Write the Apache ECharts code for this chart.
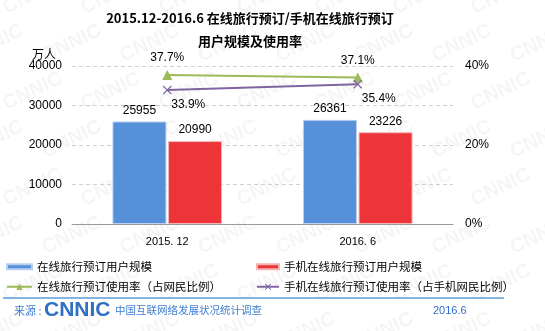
<!DOCTYPE html>
<html>
<head>
<meta charset="utf-8">
<script src="https://cdn.jsdelivr.net/npm/echarts@6/dist/echarts.min.js"></script>
<style>
  html, body { margin: 0; padding: 0; background: #fff; }
  #chart { width: 545px; height: 331px; }
</style>
</head>
<body>
<div id="chart"></div>
<script>
// Periods on the category axis
const categories = ['2015. 12', '2016. 6'];
// Users, in 10k persons
const onlineTravelUsers = [25955, 26361];
const mobileTravelUsers = [20990, 23226];
// Usage rates, in percent
const onlineTravelRate = [37.7, 37.1];
const mobileTravelRate = [33.9, 35.4];

const seriesNames = [
  '在线旅行预订用户规模',
  '手机在线旅行预订用户规模',
  '在线旅行预订使用率（占网民比例）',
  '手机在线旅行预订使用率（占手机网民比例）'
];

const CJK = '"Noto Sans CJK SC", "Liberation Sans", sans-serif';
const NUM = '"Liberation Sans", Arial, sans-serif';

const BLUE = '#5590d8';
const RED = '#ec3439';
const GREEN = '#9bbb59';
const PURPLE = '#8064a2';

// "x" marker shape as a filled outline
const crossPath = 'path://M0,1 L1,0 L5,4 L9,0 L10,1 L6,5 L10,9 L9,10 L5,6 L1,10 L0,9 L4,5 Z';

// faint repeated background mark
const watermark = [];
for (let row = -1; row < 8; row++) {
  for (let col = -1; col < 9; col++) {
    watermark.push({
      type: 'text',
      x: col * 78 + (row % 2) * 39,
      y: row * 48,
      rotation: Math.PI / 7,
      silent: true,
      z: -10,
      style: {
        text: 'CNNIC',
        font: 'bold 20px "Liberation Sans", Arial, sans-serif',
        fill: 'rgba(0,0,0,0.04)'
      }
    });
  }
}

const chart = echarts.init(document.getElementById('chart'), null, { renderer: 'canvas' });

const legendBase = {
  orient: 'horizontal',
  itemGap: 0,
  padding: 0,
  textStyle: { fontFamily: CJK, fontSize: 11.5, color: '#000' },
  selectedMode: false
};

chart.setOption({
  animation: false,
  backgroundColor: '#fff',
  title: {
    text: '2015.12-2016.6 在线旅行预订/手机在线旅行预订\n用户规模及使用率',
    left: 245,
    textAlign: 'center',
    top: 2,
    textStyle: {
      fontFamily: CJK,
      fontSize: 13,
      fontWeight: 'bold',
      color: '#000',
      lineHeight: 23
    }
  },
  grid: { left: 72, right: 92, top: 66, bottom: 107 },
  legend: [
    Object.assign({}, legendBase, { data: [seriesNames[0]], left: 6, top: 261, itemWidth: 25, itemHeight: 5, icon: 'rect' }),
    Object.assign({}, legendBase, { data: [seriesNames[1]], left: 256, top: 261, itemWidth: 22, itemHeight: 5, icon: 'rect' }),
    Object.assign({}, legendBase, { data: [seriesNames[2]], left: 6, top: 281, itemWidth: 25, itemHeight: 8 }),
    Object.assign({}, legendBase, { data: [seriesNames[3]], left: 256, top: 281, itemWidth: 22, itemHeight: 8 })
  ],
  xAxis: {
    type: 'category',
    data: categories,
    axisLine: { lineStyle: { color: '#9a9a9a', width: 1 } },
    axisTick: { show: false },
    axisLabel: { fontFamily: NUM, fontSize: 11, color: '#000', margin: 12 }
  },
  yAxis: [
    {
      type: 'value',
      name: '万人',
      nameLocation: 'end',
      nameGap: 4,
      nameTextStyle: { fontFamily: CJK, fontSize: 12, color: '#000', align: 'right', padding: [0, 16, 0, 0] },
      min: 0,
      max: 40000,
      interval: 10000,
      axisLine: { show: false },
      axisTick: { show: false },
      axisLabel: { fontFamily: NUM, fontSize: 12, color: '#000', margin: 10, formatter: v => String(v) },
      splitLine: { lineStyle: { color: '#d0d0d0', type: [4, 3] } }
    },
    {
      type: 'value',
      min: 0,
      max: 40,
      interval: 20,
      axisLine: { show: false },
      axisTick: { show: false },
      axisLabel: { fontFamily: NUM, fontSize: 12, color: '#000', margin: 12, formatter: '{value}%' },
      splitLine: { show: false }
    }
  ],
  series: [
    {
      name: seriesNames[0],
      type: 'bar',
      data: onlineTravelUsers,
      barWidth: 54,
      barGap: '3%',
      itemStyle: { color: BLUE, borderColor: '#b9cff0', borderWidth: 1 },
      label: { show: true, position: 'top', distance: 5, fontFamily: NUM, fontSize: 12, color: '#000' }
    },
    {
      name: seriesNames[1],
      type: 'bar',
      data: mobileTravelUsers,
      barWidth: 54,
      itemStyle: { color: RED, borderColor: '#f6b3b5', borderWidth: 1 },
      label: { show: true, position: 'top', distance: 5, fontFamily: NUM, fontSize: 12, color: '#000' }
    },
    {
      name: seriesNames[2],
      type: 'line',
      yAxisIndex: 1,
      data: onlineTravelRate,
      symbol: 'triangle',
      symbolSize: 10,
      lineStyle: { color: GREEN, width: 2 },
      itemStyle: { color: GREEN },
      label: { show: true, position: 'top', distance: 6, fontFamily: NUM, fontSize: 12, color: '#000', formatter: p => p.value.toFixed(1) + '%' },
      z: 5
    },
    {
      name: seriesNames[3],
      type: 'line',
      yAxisIndex: 1,
      data: mobileTravelRate,
      symbol: crossPath,
      symbolSize: 9,
      lineStyle: { color: PURPLE, width: 2 },
      itemStyle: { color: PURPLE },
      label: { show: true, position: 'bottom', distance: 4, offset: [21, 0], fontFamily: NUM, fontSize: 12, color: '#000', formatter: p => p.value.toFixed(1) + '%' },
      z: 5
    }
  ],
  graphic: watermark.concat([
    {
      type: 'line',
      shape: { x1: 3, y1: 298, x2: 504, y2: 298 },
      style: { stroke: '#5b9bd5', lineWidth: 1.5 }
    },
    {
      type: 'text',
      left: 14,
      top: 305,
      style: { text: '来源 :', font: '11px ' + CJK, fill: '#3f7fd0' }
    },
    {
      type: 'text',
      left: 44,
      top: 300,
      style: { text: 'CNNIC', font: '900 21px "Liberation Sans", Arial, sans-serif', fill: '#2f6fc6' }
    },
    {
      type: 'text',
      left: 115,
      top: 305,
      style: { text: '中国互联网络发展状况统计调查', font: '10.5px ' + CJK, fill: '#3f7fd0' }
    },
    {
      type: 'text',
      left: 433,
      top: 305,
      style: { text: '2016.6', font: '11px ' + NUM, fill: '#2f6fc6' }
    }
  ])
});
</script>
</body>
</html>
